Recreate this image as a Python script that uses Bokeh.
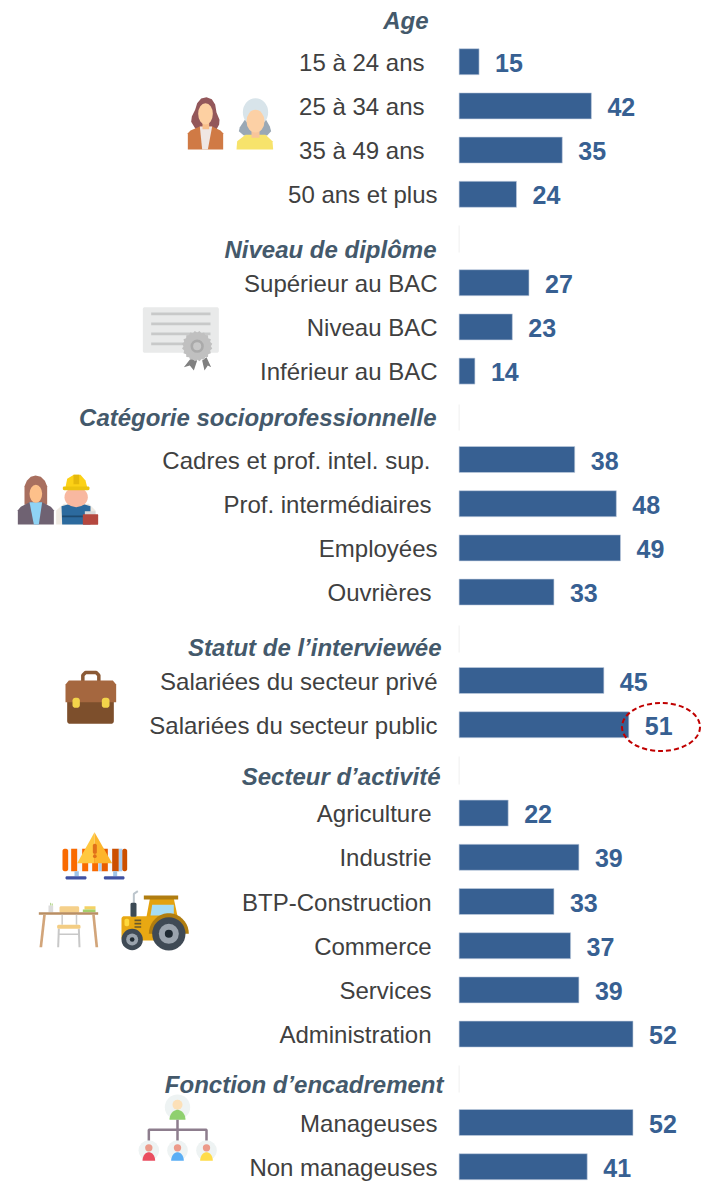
import numpy as np
from bokeh.plotting import figure
from bokeh.models import Range1d, ColumnDataSource
from bokeh.core.properties import value
from bokeh.embed import file_html
from bokeh.resources import INLINE

# ---- data
categories = ["15 à 24 ans", "25 à 34 ans", "35 à 49 ans", "50 ans et plus",
              "Supérieur au BAC", "Niveau BAC", "Inférieur au BAC",
              "Cadres et prof. intel. sup.", "Prof. intermédiaires", "Employées", "Ouvrières",
              "Salariées du secteur privé", "Salariées du secteur public",
              "Agriculture", "Industrie", "BTP-Construction", "Commerce", "Services", "Administration",
              "Manageuses", "Non manageuses"]
values = [15, 42, 35, 24, 27, 23, 14, 38, 48, 49, 33, 45, 51, 22, 39, 33, 37, 39, 52, 52, 41]
headings = ["Age", "Niveau de diplôme", "Catégorie socioprofessionnelle",
            "Statut de l’interviewée", "Secteur d’activité", "Fonction d’encadrement"]

# ---- layout (page pixels / row numbers)
rows = [0, 1, 2, 3, 5, 6, 7, 9, 10, 11, 12, 14, 15, 17, 18, 19, 20, 21, 22, 24, 25]
label_right = [424, 424, 424, 437, 437, 437, 437, 430, 431, 437, 431, 437, 437,
               431, 431, 431, 431, 431, 431, 437, 437]
heading_right = [428, 436, 436, 441, 440, 443]
heading_y = [20, 249, 417, 647, 776, 1084]
faint_y = [(225, 252), (404, 430), (625, 652), (756, 784), (1065, 1092)]
AXIS_MIN, PX_PER_UNIT, BAR_LEFT = 10.2, 4.16, 458.6
ROW0, PITCH = 61.2, 44.2
W, H = 704, 1189

p = figure(width=W, height=H, output_backend="svg", toolbar_location=None,
           x_range=Range1d(AXIS_MIN - BAR_LEFT / PX_PER_UNIT, AXIS_MIN + (W - BAR_LEFT) / PX_PER_UNIT),
           y_range=Range1d((H - ROW0) / PITCH, (0 - ROW0) / PITCH),
           min_border=0, outline_line_color=None, background_fill_color="white",
           border_fill_color="white")
p.axis.visible = False
p.grid.visible = False
p.extra_x_ranges["px"] = Range1d(0, W)
p.extra_y_ranges["px"] = Range1d(H, 0)
PX = dict(x_range_name="px", y_range_name="px")
FONT = value("Liberation Sans")

src = ColumnDataSource(dict(y=rows, v=values, t=[str(v) for v in values], left=[AXIS_MIN] * len(values),
                            c=categories, lr=label_right))


def mk(ox, oy):
    fx = lambda a: [ox + v / 3 for v in a]
    fy = lambda a: [oy + v / 3 for v in a]

    class I:
        @staticmethod
        def poly(pts, c):
            p.patch(fx([q[0] for q in pts]), fy([q[1] for q in pts]), fill_color=c, line_color=None, **PX)

        @staticmethod
        def rect(x0, y0, x1, y1, c, r=0):
            if r == 0:
                I.poly([(x0, y0), (x1, y0), (x1, y1), (x0, y1)], c)
            else:
                pts = []
                for cx, cy, a0 in [(x1 - r, y0 + r, -90), (x1 - r, y1 - r, 0), (x0 + r, y1 - r, 90), (x0 + r, y0 + r, 180)]:
                    for a in np.radians(np.linspace(a0, a0 + 90, 6)):
                        pts.append((cx + r * np.cos(a), cy + r * np.sin(a)))
                I.poly(pts, c)

        @staticmethod
        def ell(cx, cy, w, h, c):
            p.ellipse([ox + cx / 3], [oy + cy / 3], width=w / 3, height=h / 3, fill_color=c, line_color=None, **PX)

        @staticmethod
        def dome(cx, cy, w, h, c):
            # upper half of an ellipse standing on y = cy
            a = np.radians(np.linspace(180, 360, 20))
            I.poly([(cx + w / 2 * np.cos(t), cy + h * np.sin(t)) for t in a], c)

        @staticmethod
        def line(pts, c, w):
            p.line(fx([q[0] for q in pts]), fy([q[1] for q in pts]), line_color=c, line_width=w, **PX)
    return I


# women icon
i = mk(170, 80)
i.poly([(108, 50), (92, 54), (80, 68), (74, 88), (64, 108), (62, 124), (72, 140), (80, 152), (135, 152), (146, 132),
        (147, 118), (138, 96), (134, 72), (124, 56)], "#93575a")
i.poly([(52, 207), (52, 158), (60, 150), (88, 138), (125, 138), (150, 150), (158, 158), (158, 207)], "#d07a45")
i.poly([(88, 138), (125, 138), (112, 207), (95, 207)], "#efe6e4")
i.rect(96, 120, 116, 146, "#f8c08c")
i.ell(105, 100, 44, 64, "#fdd0a2")
i.poly([(225, 115), (208, 140), (205, 152), (220, 165), (290, 165), (302, 152), (298, 138), (285, 115)], "#9aa8b5")
i.ell(255, 95, 76, 84, "#d8e4ea")
i.poly([(198, 207), (200, 182), (225, 163), (285, 163), (306, 182), (308, 207)], "#f7e36b")
i.rect(243, 150, 267, 172, "#f8c59a")
i.ell(255, 122, 54, 68, "#fcd0a5")

# diploma icon
i = mk(130, 295)
i.rect(37, 35, 265, 172, "#e9eaea", 6)
for yy in (55, 85, 115, 145):
    i.rect(62, yy - 4, 240, yy + 4, "#c8c9c9")
i.poly([(180, 190), (160, 215), (178, 210), (190, 225), (200, 195)], "#808080")
i.poly([(215, 195), (222, 225), (232, 210), (242, 215), (228, 185)], "#808080")
ang = np.radians(np.arange(0, 360, 9.0))
i.poly([(200 + (46 if k % 2 else 41) * np.cos(a), 152 + (46 if k % 2 else 41) * np.sin(a)) for k, a in enumerate(ang)], "#c0c0c0")
i.ell(200, 152, 40, 40, "#aaaaaa")
i.ell(200, 152, 24, 24, "#c8c8c8")

# professionals icon
i = mk(5, 465)
i.poly([(57, 118), (57, 62), (64, 46), (76, 34), (90, 30), (106, 34), (118, 46), (125, 62), (125, 118)], "#a86f5f")
i.poly([(37, 177), (37, 134), (46, 124), (72, 110), (110, 110), (136, 124), (145, 134), (145, 177)], "#6f6272")
i.poly([(72, 110), (110, 110), (100, 177), (85, 177)], "#8fd3f4")
i.ell(91, 85, 38, 54, "#fdc08a")
i.poly([(152, 177), (152, 135), (175, 115), (250, 115), (270, 135), (270, 177)], "#efeae2")
i.poly([(170, 177), (168, 122), (195, 115), (230, 115), (255, 122), (255, 177)], "#2c6a9e")
i.rect(170, 150, 235, 155, "#1d4a70")
i.ell(212, 95, 70, 60, "#f8b8a0")
i.poly([(180, 65), (185, 40), (205, 28), (225, 28), (240, 45), (245, 65)], "#fcd116")
i.rect(172, 63, 252, 74, "#ecc30e", 4)
i.rect(204, 28, 221, 56, "#e5b80b")
i.rect(238, 137, 270, 150, "#d9d9d9")
i.rect(232, 146, 278, 178, "#b5483f", 3)

# briefcase icon
i = mk(50, 660)
i.line([(97, 62), (97, 44), (105, 36), (137, 36), (145, 44), (145, 62)], "#8b5a36", 3.5)
i.rect(50, 100, 190, 190, "#7d4f2c", 8)
i.poly([(45, 72), (55, 60), (187, 60), (197, 72), (197, 125), (45, 125)], "#a5673f")
i.rect(66, 112, 88, 142, "#f3d44a", 8)
i.rect(154, 112, 177, 142, "#f3d44a", 8)

# barrier, desk, tractor icons
i = mk(30, 825)
i.rect(96, 70, 290, 137, "#f4f7fb", 12)
i.rect(96, 70, 113, 137, "#f96a00", 6)
for a, b, c in [(122, 140, "#f96a00"), (155, 173, "#f96a00"), (185, 203, "#f96a00"), (213, 232, "#e85d00"), (245, 265, "#cc4f00")]:
    i.rect(a, 70, b, 137, c)
i.rect(275, 70, 290, 137, "#cc4f00", 6)
i.rect(204, 70, 213, 137, "#a9cdf0")
i.rect(265, 70, 275, 137, "#a9cdf0")
i.poly([(192, 20), (140, 113), (192, 113)], "#ffc840")
i.poly([(192, 20), (245, 113), (192, 113)], "#fdb52c")
i.rect(187, 55, 199, 85, "#e0701a", 5)
i.ell(193, 92, 11, 11, "#e0701a")
i.rect(132, 137, 145, 152, "#a0c4e8")
i.rect(248, 137, 260, 152, "#a0c4e8")
i.rect(105, 152, 168, 162, "#3f51a3", 4)
i.rect(220, 152, 282, 162, "#3f51a3", 4)
# desk
i.rect(54, 240, 68, 260, "#dcdcdc")
i.line([(60, 240), (60, 232)], "#b7d79a", 1)
i.line([(65, 240), (65, 234)], "#a5cf6b", 1)
i.rect(162, 242, 195, 252, "#f3d265")
i.rect(157, 252, 195, 260, "#a5cf6b")
i.rect(87, 242, 146, 262, "#f5d08a", 5)
i.rect(25, 260, 203, 268, "#b98e63")
i.poly([(38, 268), (46, 268), (35, 365), (27, 365)], "#d2a57a")
i.poly([(185, 268), (193, 268), (203, 365), (195, 365)], "#d2a57a")
i.line([(95, 268), (95, 298)], "#cccccc", 1.5)
i.line([(138, 268), (138, 298)], "#cccccc", 1.5)
i.line([(85, 310), (83, 365)], "#c8c8c8", 2)
i.line([(145, 310), (147, 365)], "#c8c8c8", 2)
i.line([(85, 326), (147, 326)], "#c8c8c8", 1.5)
i.rect(80, 298, 150, 310, "#f3cd84", 4)
# tractor
i.line([(310, 235), (310, 205), (322, 197)], "#bcc5cc", 2)
i.poly([(345, 290), (358, 220), (430, 220), (445, 290)], "#e3a20f")
i.rect(340, 210, 443, 222, "#b07d10")
i.poly([(365, 238), (430, 238), (430, 270), (360, 270)], "#a6dcf4")
i.rect(273, 272, 400, 345, "#e8a812", 8)
i.rect(300, 232, 318, 274, "#3c4a55", 4)
i.rect(282, 280, 296, 302, "#ffd93b", 5)
for yy in (282, 292, 302):
    i.rect(312, yy, 332, yy + 5, "#6b5a2a")
i.dome(415, 325, 120, 62, "#b07d10")
i.ell(415, 325, 100, 100, "#3f4a55")
i.ell(415, 325, 60, 60, "#9aa3ad")
i.ell(415, 325, 24, 24, "#1f2a33")
i.ell(305, 342, 64, 64, "#3f4a55")
i.ell(305, 342, 36, 36, "#9aa3ad")
i.ell(305, 342, 14, 14, "#1f2a33")

# hierarchy icon
i = mk(130, 1090)
i.ell(141, 50, 76, 76, "#eef3f3")
i.ell(141, 43, 30, 30, "#fce0b8")
i.dome(141, 88, 48, 30, "#8fd06f")
for cx, c in [(55, "#ea4e60"), (141, "#5aaef5"), (228, "#ffdc4a")]:
    i.ell(cx, 180, 62, 62, "#eef3f3")
    i.ell(cx, 172, 22, 22, "#ec9a8a")
    i.dome(cx, 211, 38, 26, c)
i.line([(141, 88), (141, 150)], "#8d7d8d", 2.5)
i.line([(55, 150), (55, 118), (228, 118), (228, 150)], "#8d7d8d", 2.5)

# ---- faint axis pieces at heading rows
for a, b in faint_y:
    p.line([BAR_LEFT, BAR_LEFT], [a, b], line_color="#efefef", line_width=1, **PX)

# ---- bars, values, labels
p.hbar(y="y", left="left", right="v", height=26 / PITCH, source=src, fill_color="#376092",
       line_color="#c3cfdf", line_width=0.6)
p.text(x="v", y="y", text="t", source=src, x_offset=16, y_offset=1, text_align="left", text_baseline="middle",
       text_font=FONT, text_font_style="bold", text_font_size="25px", text_color="#376092")
p.text(x="lr", y="y", text="c", source=src, y_offset=0.5, text_align="right", text_baseline="middle",
       text_font=FONT, text_font_size="24px", text_color="#404040",
       x_range_name="px")
p.text(x=heading_right, y=heading_y, text=headings, text_align="right", text_baseline="middle",
       text_font=FONT, text_font_style="bold italic", text_font_size="24px", text_color="#44596b", **PX)

# ---- highlight
p.ellipse([660.5], [726.5], width=78, height=48, fill_color=None, line_color="#c00000",
          line_width=2, line_dash="5 3", **PX)

open("out.html", "w").write(file_html(p, INLINE))
